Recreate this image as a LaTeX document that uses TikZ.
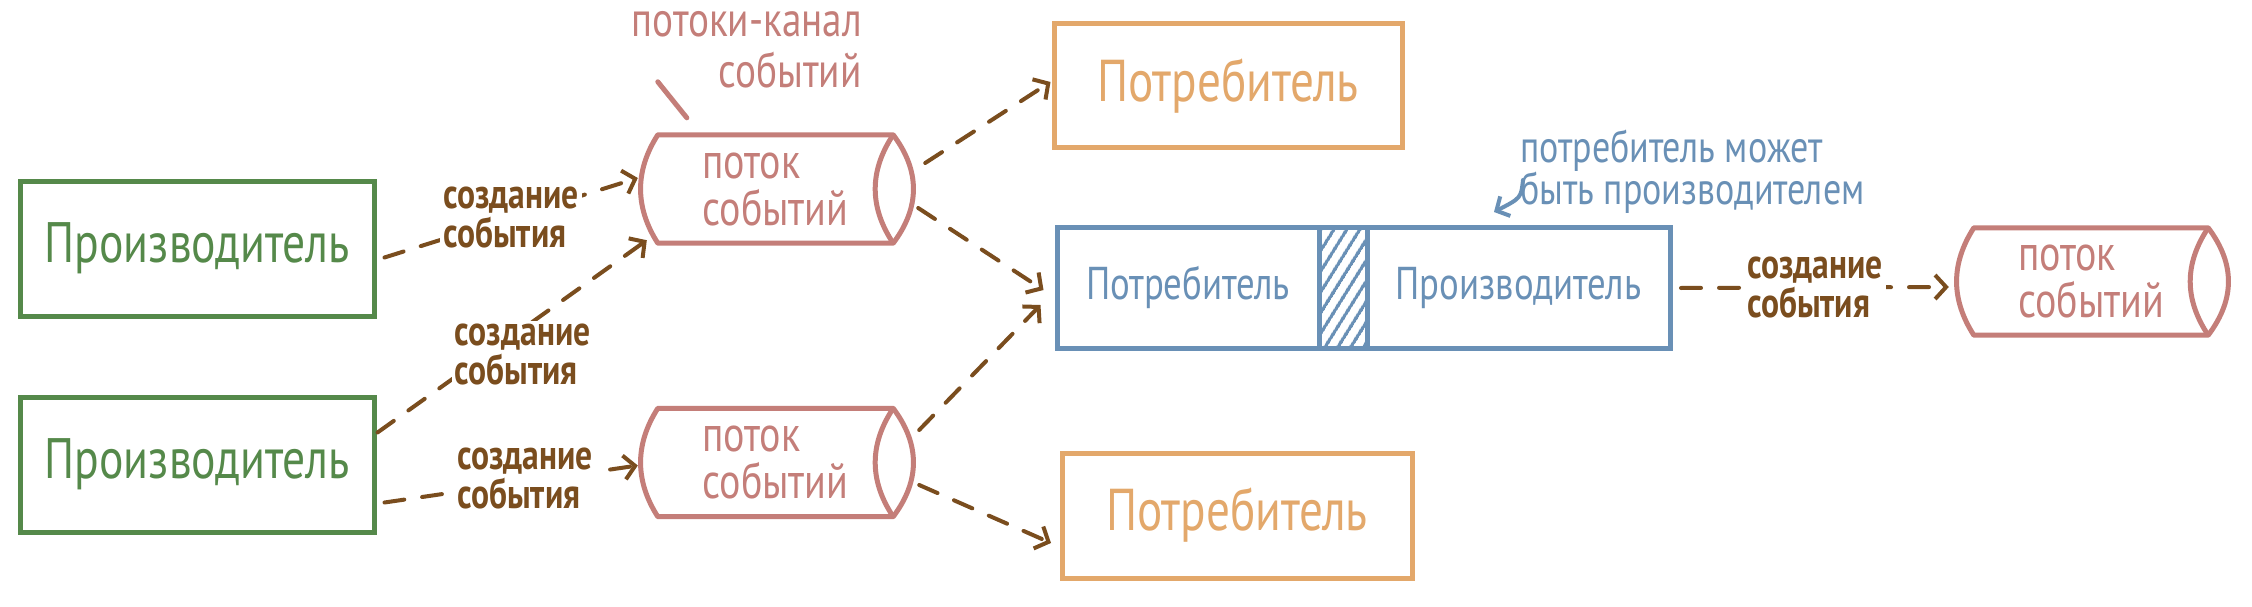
\documentclass[tikz,border=0pt]{standalone}
\usepackage{fontspec}
\setmainfont[FakeStretch=0.8]{PT Sans}
\usetikzlibrary{arrows.meta,calc,patterns.meta}
\definecolor{cgreen}{HTML}{55894A}
\definecolor{csalmon}{HTML}{C47E79}
\definecolor{corange}{HTML}{E3A86B}
\definecolor{cblue}{HTML}{6990B6}
\definecolor{cbrown}{HTML}{7A4D1E}
\newcommand\streamdraw[1]{%
  \draw[streamline] (#1.north west) -- (#1.north east)
    .. controls ($(#1.north east)+(27,36)$) and ($(#1.south east)+(27,-36)$) .. (#1.south east)
    -- (#1.south west)
    .. controls ($(#1.south west)+(-23,-36)$) and ($(#1.north west)+(-23,36)$) .. cycle;
  \draw[streamline] (#1.north east)
    .. controls ($(#1.north east)+(-24,36)$) and ($(#1.south east)+(-24,-36)$) .. (#1.south east);
}
\begin{document}
\begin{tikzpicture}[x=1pt,y=-1pt,
  gbox/.style={draw=cgreen, line width=5pt, text=cgreen, minimum width=354pt, minimum height=135pt, inner sep=0pt,
    font=\fontsize{57}{60}\selectfont},
  obox/.style={draw=corange, line width=5pt, text=corange, inner sep=0pt, font=\fontsize{59}{60}\selectfont},
  bbox/.style={draw=cblue, line width=5pt, text=cblue, inner sep=0pt, minimum height=121pt, font=\fontsize{46}{50}\selectfont},
  strm/.style={draw=none, inner sep=0pt, text=csalmon, align=left, minimum width=235pt, minimum height=108pt,
    font=\fontsize{50}{47}\selectfont},
  streamline/.style={draw=csalmon, line width=5pt, line join=round},
  arr/.style={draw=cbrown, line width=4pt, dash pattern=on 20pt off 18pt, line cap=round,
    -{Straight Barb[length=11pt,width=24pt,line width=4pt]}},
  lbl/.style={fill=white, inner sep=3pt, text=cbrown, align=left, font=\bfseries\fontsize{42}{39}\selectfont},
  salnote/.style={text=csalmon, inner sep=0pt, align=right, font=\fontsize{49}{51}\selectfont},
  bluenote/.style={text=cblue, inner sep=0pt, align=left, font=\fontsize{45}{42}\selectfont},
]
\useasboundingbox[fill=white] (0,0) rectangle (2252,607);

% producers
\node[gbox] (p1) at (197,248.5) {Производитель};
\node[gbox] (p2) at (197,464.5) {Производитель};

% streams
\node[strm] (s1) at (775.5,189) {поток\\событий};
\node[strm] (s2) at (775.5,462.5) {поток\\событий};
\node[strm, minimum width=234pt, minimum height=107pt] (s3) at (2091,281.5) {поток\\событий};
\streamdraw{s1}
\streamdraw{s2}
\streamdraw{s3}

% consumers
\node[obox, minimum width=348pt, minimum height=124pt] (c1) at (1228,86) {Потребитель};
\node[obox, minimum width=350pt, minimum height=125pt] (c2) at (1237,515.5) {Потребитель};

% consumer-producer
\node[bbox, minimum width=262pt] (bc) at (1188,287.5) {Потребитель};
\node[bbox, minimum width=48pt, pattern={Lines[angle=58,distance=10.5pt,line width=3.5pt]}, pattern color=cblue] (bh) at (1343,287.5) {};
\node[bbox, minimum width=303pt] (bp) at (1518.5,287.5) {Производитель};

% notes
\node[salnote, anchor=east] (chan) at (862,50) {потоки-канал\\событий};
\draw[streamline, line cap=round] ($(s1.north west)+(0,-53)$) -- ($(s1.north west)+(29,-17)$);

\node[bluenote, anchor=west] (note) at (1520,172) {потребитель может\\быть производителем};
\draw[draw=cblue, line width=4pt, line cap=round, -{Straight Barb[length=10pt,width=22pt,line width=4pt]}]
  ($(note.west)+(3,8)$) .. controls ($(note.west)+(1,26)$) .. ($(note.west)+(-26,40)$);

% connectors
\draw[arr] ($(p1.east)+(8,9)$) -- node[lbl] {создание\\события} ($(s1.west)+(-20,-11)$);
\draw[arr] ($(p2.east)+(1,-32)$) -- node[lbl, pos=0.45, xshift=24pt, yshift=-9pt] {создание\\события} ($(s1.south west)+(-11,-3)$);
\draw[arr] ($(p2.east)+(8,38)$) -- node[lbl, xshift=14pt, yshift=6pt] {создание\\события} ($(s2.west)+(-20,3)$);
\draw[arr] ($(s1.east)+(32,-26)$) -- ($(c1.west)+(-1,-4)$);
\draw[arr] ($(s1.east)+(25,19)$) -- ($(bc.west)+(-11,2.5)$);
\draw[arr] ($(s2.east)+(26,-32.5)$) -- ($(bc.west)+(-14,17.5)$);
\draw[arr] ($(s2.east)+(26,22.5)$) -- ($(c2.west)+(-8.5,27.5)$);
\draw[arr] ($(bp.east)+(8.5,0.5)$) -- node[lbl] {создание\\события} ($(s3.west)+(-25,5.5)$);
\end{tikzpicture}
\end{document}
